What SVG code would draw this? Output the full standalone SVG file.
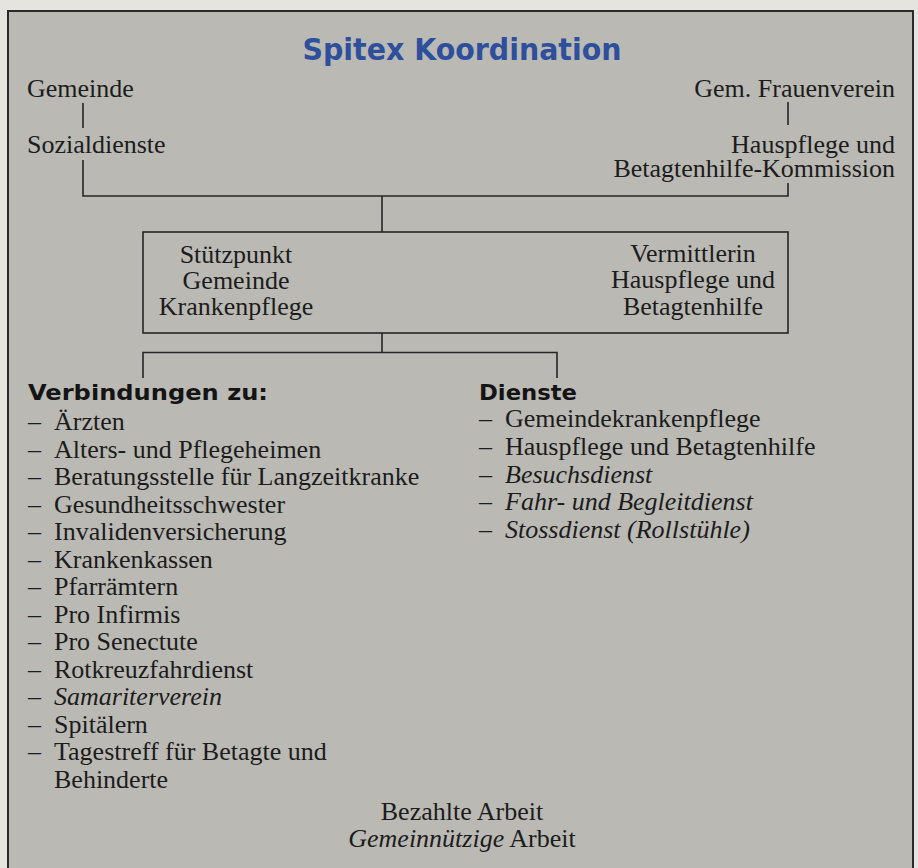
<svg xmlns="http://www.w3.org/2000/svg" width="918" height="868" viewBox="0 0 918 868">
<style>
.t{font-family:"Liberation Serif","Times New Roman",serif;font-size:26px;fill:#1c1c1c}
.i{font-style:italic}
.h{font-family:"DejaVu Sans","Liberation Sans",sans-serif;font-weight:bold;fill:#141414}
.ttl{font-family:"DejaVu Sans","Liberation Sans",sans-serif;font-weight:bold;fill:#2d4f9c}
.c{text-anchor:middle}
.r{text-anchor:end}
.ln{stroke:#262626;stroke-width:1.6;fill:none}
</style>
<rect x="0" y="0" width="918" height="868" fill="#e6e4de"/>
<rect x="8" y="11" width="905" height="870" fill="#bab9b4" stroke="#2a2a2a" stroke-width="2"/>
<g id="title"><text class="ttl c" x="462" y="60" font-size="31" textLength="319" lengthAdjust="spacingAndGlyphs">Spitex Koordination</text></g>
<g id="connectors" class="ln">
<path class="ln" d="M83 103V128M83 160V196H788V183M788 102V125M382 196V232M382 333V352.5M143 378V352.5H557V378"/>
</g>
<g id="gemeinde"><text class="t" x="27" y="96.5">Gemeinde</text></g>
<g id="sozialdienste"><text class="t" x="27" y="153">Sozialdienste</text></g>
<g id="frauenverein"><text class="t r" x="895" y="96.5">Gem. Frauenverein</text></g>
<g id="kommission"><text class="t r" x="895" y="153">Hauspflege und</text><text class="t r" x="895" y="177">Betagtenhilfe-Kommission</text></g>
<g id="stuetzpunkt">
<rect class="ln" x="143" y="232" width="645" height="101"/>
<text class="t c" x="236" y="263">Stützpunkt</text>
<text class="t c" x="236" y="289">Gemeinde</text>
<text class="t c" x="236" y="315">Krankenpflege</text>
<text class="t c" x="693" y="262">Vermittlerin</text>
<text class="t c" x="693" y="288">Hauspflege und</text>
<text class="t c" x="693" y="315">Betagtenhilfe</text>
</g>
<g id="verbindungen">
<text class="h" x="28" y="400" font-size="22" textLength="240" lengthAdjust="spacingAndGlyphs">Verbindungen zu:</text>
<g class="t">
<text x="28" y="430">–</text><text x="54" y="430">Ärzten</text>
<text x="28" y="457.5">–</text><text x="54" y="457.5">Alters- und Pflegeheimen</text>
<text x="28" y="485">–</text><text x="54" y="485">Beratungsstelle für Langzeitkranke</text>
<text x="28" y="512.5">–</text><text x="54" y="512.5">Gesundheitsschwester</text>
<text x="28" y="540">–</text><text x="54" y="540">Invalidenversicherung</text>
<text x="28" y="567.5">–</text><text x="54" y="567.5">Krankenkassen</text>
<text x="28" y="595">–</text><text x="54" y="595">Pfarrämtern</text>
<text x="28" y="622.5">–</text><text x="54" y="622.5">Pro Infirmis</text>
<text x="28" y="650">–</text><text x="54" y="650">Pro Senectute</text>
<text x="28" y="677.5">–</text><text x="54" y="677.5">Rotkreuzfahrdienst</text>
<text class="i" x="28" y="705">–</text><text class="i" x="54" y="705">Samariterverein</text>
<text x="28" y="732.5">–</text><text x="54" y="732.5">Spitälern</text>
<text x="28" y="760">–</text><text x="54" y="760">Tagestreff für Betagte und</text>
<text x="54" y="787.5">Behinderte</text>
</g>
</g>
<g id="dienste">
<text class="h" x="479" y="400" font-size="22" textLength="98" lengthAdjust="spacingAndGlyphs">Dienste</text>
<g class="t">
<text x="479" y="427">–</text><text x="505" y="427">Gemeindekrankenpflege</text>
<text x="479" y="455">–</text><text x="505" y="455">Hauspflege und Betagtenhilfe</text>
<text class="i" x="479" y="482.5">–</text><text class="i" x="505" y="482.5">Besuchsdienst</text>
<text class="i" x="479" y="510">–</text><text class="i" x="505" y="510">Fahr- und Begleitdienst</text>
<text class="i" x="479" y="538">–</text><text class="i" x="505" y="538">Stossdienst (Rollstühle)</text>
</g>
</g>
<g id="legend">
<text class="t c" x="462" y="820">Bezahlte Arbeit</text>
<text class="t c" x="462" y="847"><tspan class="i">Gemeinnützige</tspan> Arbeit</text>
</g>
</svg>
